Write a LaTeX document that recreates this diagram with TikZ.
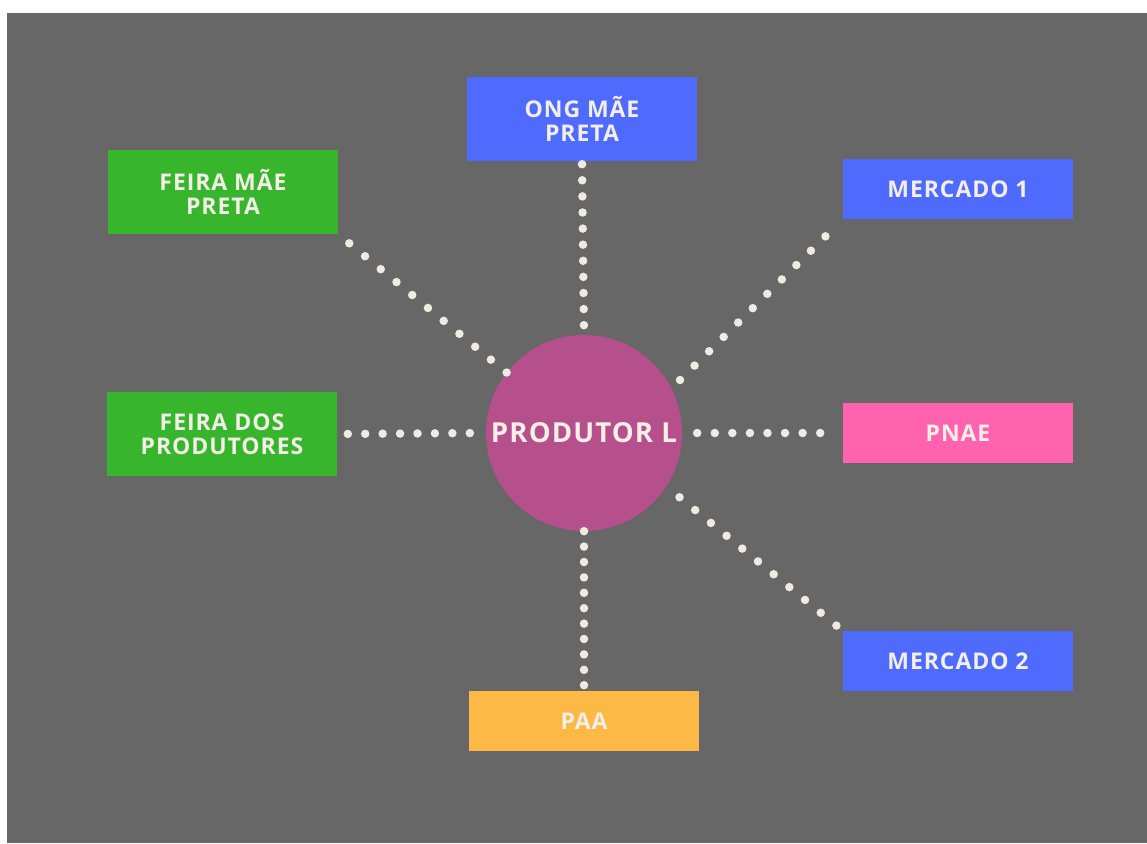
\documentclass[tikz,border=0pt]{standalone}
\usepackage{fontspec}
\setmainfont{Open Sans}[LetterSpace=4]
\definecolor{bggray}{HTML}{676767}
\definecolor{cream}{HTML}{F3EEE6}
\definecolor{dotcream}{HTML}{EEEBE0}
\definecolor{prodpink}{HTML}{B5508D}
\definecolor{boxgreen}{HTML}{37B52C}
\definecolor{boxblue}{HTML}{4F6BFD}
\definecolor{pnaepink}{HTML}{FF63AF}
\definecolor{paaorange}{HTML}{FDB946}
\tikzset{
    box/.style={rectangle,minimum width=230pt,inner sep=0pt,align=center,text=cream,
        font=\fontsize{23}{24}\selectfont\bfseries},
    dotline/.style={draw=dotcream,line width=8.5pt,line cap=round,dash pattern=on 0pt off #1}
}
\begin{document}
\begin{tikzpicture}[x=1pt,y=-1pt]
        \useasboundingbox (0,0) rectangle (1147,843);
        \fill[white] (0,0) rectangle (1147,843);
        \fill[bggray] (7,13) rectangle (1147,843);
        \node[circle,fill=prodpink,minimum size=196pt,inner sep=0pt,text=cream,
            font=\fontsize{27.6}{28}\selectfont\bfseries] (prod) at (584,433) {PRODUTOR L};
        \begin{scope}[every node/.style={box,minimum height=84pt}]
        \node[fill=boxgreen] (feiraMae) at (223,192) {FEIRA MÃE\\PRETA};
        \node[fill=boxblue] (ong) at (582,119) {ONG MÃE\\PRETA};
        \node[fill=boxgreen] (feiraProd) at (222,434) {FEIRA DOS\\PRODUTORES};
        \end{scope}
        \begin{scope}[every node/.style={box,minimum height=60pt}]
        \node[fill=boxblue] (merc1) at (958,189) {MERCADO 1};
        \node[fill=pnaepink] (pnae) at (958,433) {PNAE};
        \node[fill=boxblue] (merc2) at (958,661) {MERCADO 2};
        \node[fill=paaorange] (paa) at (584,721) {PAA};
        \end{scope}
        \draw[dotline=20.36pt] (prod.142) -- (feiraMae.south east);
        \draw[dotline=16.1pt,shorten <=3pt] (ong.south) -- (prod.north);
        \draw[dotline=20.44pt,shorten <=12pt,shorten >=20pt] (prod.27) -- (merc1.south west);
        \draw[dotline=17.43pt,shorten <=16pt] (prod.west) -- (feiraProd.east);
        \draw[dotline=17.57pt,shorten <=15pt,shorten >=10pt] (prod.east) -- (pnae.west);
        \draw[dotline=20.27pt,shorten <=17pt] (prod.-33) -- (merc2.north west);
        \draw[dotline=15.4pt] (prod.south) -- (paa.north);
    \end{tikzpicture}
\end{document}
